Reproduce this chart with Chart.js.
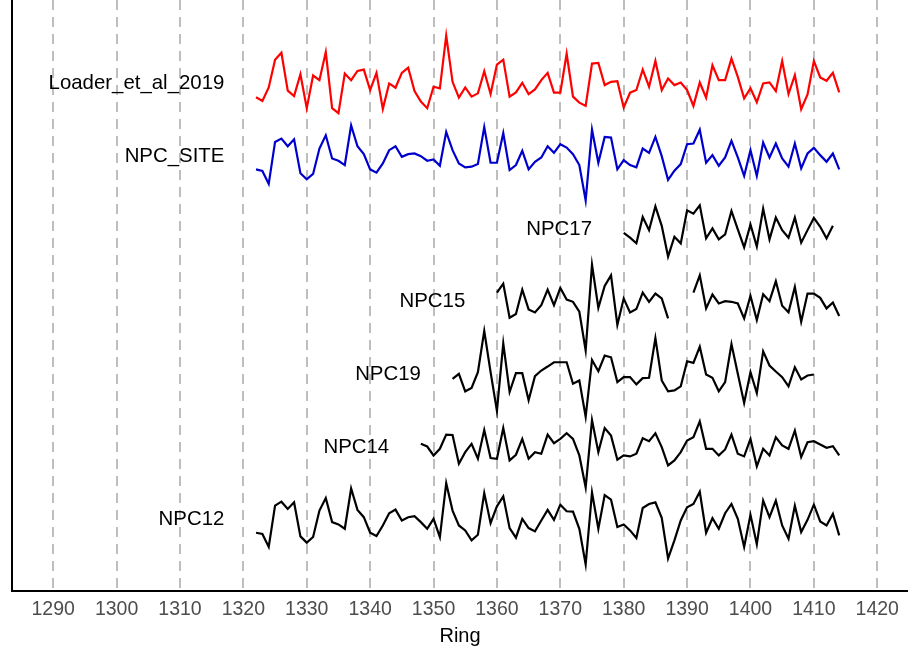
<!DOCTYPE html>
<html>
<head>
<meta charset="utf-8">
<title>Ring width series</title>
<script src="https://cdn.jsdelivr.net/npm/chart.js@4.4.1/dist/chart.umd.min.js"></script>
<style>
  html, body { margin: 0; padding: 0; background: #ffffff; }
  #wrap { width: 908px; height: 646px; }
</style>
</head>
<body>
<div id="wrap"><canvas id="ringChart" width="908" height="646"></canvas></div>
<script>
// --- series, bottom to top ---
const seriesNames = ['NPC12', 'NPC14', 'NPC19', 'NPC15', 'NPC17', 'NPC_SITE', 'Loader_et_al_2019'];
const seriesStarts = [1322, 1348, 1353, 1360, 1380, 1322, 1322];
const seriesColors = ['#000000', '#000000', '#000000', '#000000', '#000000', '#0000cd', '#ff0000'];

const xTicks = [1290, 1300, 1310, 1320, 1330, 1340, 1350, 1360, 1370, 1380, 1390, 1400, 1410, 1420];

// standardized ring widths, one value per year from the start year
const npc12 = [
  -0.39, -0.43, -0.82, 0.43, 0.55, 0.33, 0.53, -0.50, -0.69, -0.52,
  0.28, 0.66, -0.07, -0.14, -0.27, 0.95, 0.30, 0.08, -0.39, -0.49,
  -0.17, 0.20, 0.31, -0.02, 0.08, 0.11, -0.07, -0.27, 0.03, -0.52,
  1.11, 0.28, -0.17, -0.32, -0.62, -0.45, 0.81, -0.10, 0.41, 0.71,
  -0.25, -0.54, 0.03, -0.25, -0.35, -0.02, 0.30, 0.00, 0.46, 0.26,
  0.25, -0.27, -1.35, 0.83, -0.27, 0.75, 0.61, -0.22, -0.14, -0.32,
  -0.55, 0.36, 0.48, 0.53, 0.06, -1.17, -0.62, -0.02, 0.38, 0.48,
  0.85, -0.39, 0.05, -0.27, 0.20, 0.48, 0.03, -0.82, 0.15, -0.74,
  0.58, 0.08, 0.58, -0.17, -0.57, 0.43, -0.37, 0.00, 0.46, -0.05,
  -0.17, 0.18, -0.47
];
const npc14 = [
  0.10, 0.02, -0.25, -0.05, 0.38, 0.37, -0.50, -0.15, 0.10, -0.35,
  0.52, -0.33, -0.35, 0.58, -0.40, -0.23, 0.25, -0.35, -0.15, -0.20,
  0.38, 0.12, 0.25, 0.42, 0.25, -0.25, -1.22, 0.82, -0.15, 0.58,
  0.35, -0.38, -0.25, -0.28, -0.20, 0.27, 0.18, 0.42, 0.00, -0.55,
  -0.40, -0.15, 0.20, 0.30, 0.78, -0.05, -0.05, -0.25, -0.07, 0.38,
  -0.20, -0.28, 0.25, -0.58, -0.05, -0.25, 0.30, 0.05, -0.05, 0.50,
  -0.30, 0.15, 0.18, 0.08, -0.02, 0.03, -0.25
];
const npc19 = [
  -0.13, 0.02, -0.51, -0.41, 0.07, 1.32, 0.07, -1.10, 0.94, -0.53,
  0.04, 0.04, -0.78, -0.05, 0.12, 0.24, 0.37, 0.37, 0.37, -0.28,
  -0.18, -1.28, 0.44, 0.10, 0.57, 0.52, -0.23, -0.08, -0.08, -0.30,
  -0.11, -0.10, 1.10, -0.18, -0.51, -0.48, -0.36, 0.40, 0.35, 0.84,
  0.00, -0.10, -0.51, -0.23, 0.92, 0.02, -0.86, 0.07, -0.56, 0.70,
  0.27, 0.09, -0.08, -0.36, 0.22, -0.15, -0.03, 0.00
];
// 1388-1390 missing
const npc15 = [
  0.28, 0.55, -0.48, -0.37, 0.37, -0.23, -0.32, -0.10, 0.37, -0.10,
  0.42, 0.07, 0.00, -0.30, -1.47, 1.12, -0.18, 0.48, 0.80, -0.70,
  0.10, -0.32, -0.22, 0.28, 0.00, 0.25, 0.10, -0.50, null, null,
  null, 0.28, 0.80, -0.20, 0.22, -0.05, 0.02, 0.00, -0.05, -0.50,
  0.18, -0.55, 0.23, 0.02, 0.62, -0.12, -0.32, 0.45, -0.60, 0.25,
  0.25, 0.12, -0.20, -0.02, -0.43
];
const npc17 = [
  -0.11, -0.26, -0.43, 0.37, -0.03, 0.69, 0.10, -0.83, -0.23, -0.43,
  0.57, 0.47, 0.72, -0.28, 0.02, -0.31, -0.16, 0.55, -0.01, -0.55,
  0.14, -0.53, 0.62, -0.31, 0.35, -0.03, -0.26, 0.35, -0.41, -0.03,
  0.34, 0.07, -0.28, 0.10
];
const npcSite = [
  -0.39, -0.44, -0.83, 0.44, 0.54, 0.31, 0.52, -0.51, -0.69, -0.53,
  0.24, 0.64, -0.06, -0.13, -0.26, 0.94, 0.31, 0.07, -0.39, -0.49,
  -0.21, 0.19, 0.31, -0.01, 0.07, 0.09, 0.01, -0.13, -0.09, -0.28,
  0.74, 0.19, -0.21, -0.33, -0.31, -0.23, 0.89, -0.19, -0.19, 0.71,
  -0.41, -0.26, 0.17, -0.39, -0.16, -0.03, 0.31, 0.11, 0.37, 0.27,
  0.07, -0.26, -1.33, 0.81, -0.19, 0.59, 0.57, -0.39, -0.11, -0.26,
  -0.33, 0.24, 0.11, 0.59, 0.01, -0.71, -0.43, -0.23, 0.37, 0.39,
  0.81, -0.19, 0.04, -0.28, -0.03, 0.47, -0.03, -0.59, 0.19, -0.59,
  0.42, -0.03, 0.39, -0.06, -0.31, 0.39, -0.36, 0.09, 0.26, 0.04,
  -0.16, 0.09, -0.39
];
const loader2019 = [
  -0.41, -0.52, -0.11, 0.73, 0.94, -0.21, -0.37, 0.29, -0.74, 0.25,
  0.11, 0.96, -0.74, -0.89, 0.31, 0.11, 0.39, 0.43, -0.19, 0.33,
  -0.76, 0.01, -0.12, 0.33, 0.49, -0.22, -0.54, -0.74, -0.09, -0.14,
  1.46, 0.06, -0.42, -0.11, -0.39, -0.29, 0.38, -0.31, 0.58, 0.73,
  -0.39, -0.26, 0.03, -0.31, -0.17, 0.11, 0.33, -0.27, -0.27, 0.91,
  -0.39, -0.57, -0.67, 0.61, 0.63, -0.04, 0.06, 0.08, -0.72, -0.27,
  -0.19, 0.43, -0.09, 0.69, -0.19, 0.16, -0.04, 0.04, -0.19, -0.67,
  0.04, -0.42, 0.56, 0.11, 0.11, 0.76, 0.21, -0.44, -0.14, -0.56,
  0.01, 0.04, -0.22, 0.69, -0.31, 0.26, -0.77, -0.32, 0.69, 0.19,
  0.09, 0.33, -0.26
];

const seriesValues = [npc12, npc14, npc19, npc15, npc17, npcSite, loader2019];

// vertical gap between stacked series
const SPACING = 2.2;
const LABEL_FONT = '20.4px "Liberation Sans", Arial, sans-serif';

function buildPoints(values, start, offset) {
  return values.map((v, i) => ({ x: start + i, y: v === null ? null : v + offset }));
}

const datasets = seriesNames.map((name, i) => ({
  label: name,
  data: buildPoints(seriesValues[i], seriesStarts[i], i * SPACING),
  borderColor: seriesColors[i],
  borderWidth: 2.2,
  pointRadius: 0,
  tension: 0,
  fill: false,
  spanGaps: false
}));

// name of each series, right-aligned a few years before it starts
const seriesLabels = {
  id: 'seriesLabels',
  afterDatasetsDraw(chart) {
    const { ctx, scales: { x, y } } = chart;
    ctx.save();
    ctx.font = LABEL_FONT;
    ctx.fillStyle = '#000000';
    ctx.textAlign = 'right';
    ctx.textBaseline = 'middle';
    seriesNames.forEach((name, i) => {
      ctx.fillText(name, x.getPixelForValue(seriesStarts[i] - 5), y.getPixelForValue(i * SPACING));
    });
    ctx.restore();
  }
};

new Chart(document.getElementById('ringChart').getContext('2d'), {
  type: 'line',
  data: { datasets: datasets },
  options: {
    responsive: false,
    animation: false,
    devicePixelRatio: 1,
    layout: { padding: { left: 12, right: 0, top: 0, bottom: -2 } },
    plugins: {
      legend: { display: false },
      tooltip: { enabled: false }
    },
    scales: {
      x: {
        type: 'linear',
        min: 1283.5,
        max: 1424.85,
        afterBuildTicks: (scale) => { scale.ticks = xTicks.map(v => ({ value: v })); },
        ticks: {
          callback: (v) => String(v),
          color: '#4d4d4d',
          font: { family: '"Liberation Sans", Arial, sans-serif', size: 19.5 },
          padding: 7,
          maxRotation: 0
        },
        grid: {
          color: '#bebebe',
          lineWidth: 2,
          drawTicks: false
        },
        border: { display: true, color: '#000000', width: 2, dash: [10, 7] },
        title: {
          display: true,
          text: 'Ring',
          color: '#000000',
          font: { family: '"Liberation Sans", Arial, sans-serif', size: 20 },
          padding: { top: -4, bottom: 0 }
        }
      },
      y: {
        type: 'linear',
        min: -2.142,
        max: 15.736,
        ticks: { display: false },
        grid: { display: false, drawTicks: false },
        border: { display: true, color: '#000000', width: 2 }
      }
    }
  },
  plugins: [seriesLabels]
});
</script>
</body>
</html>
